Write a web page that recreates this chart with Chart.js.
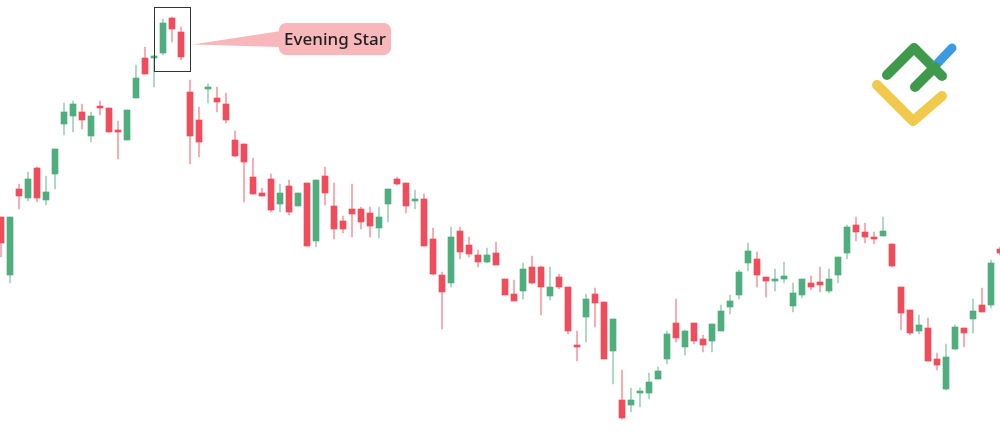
<!DOCTYPE html>
<html>
<head>
<meta charset="utf-8">
<script src="https://cdn.jsdelivr.net/npm/chart.js@4.4.1/dist/chart.umd.min.js"></script>
<style>
  html, body { margin: 0; padding: 0; background: #fff; }
  #wrap { width: 1000px; height: 443px; }
</style>
</head>
<body>
<div id="wrap"><canvas id="chart" width="1000" height="443"></canvas></div>
<script>
// candle values (arbitrary price units)
const openVals = [226,168,254,245,275,243,269,319,327,331,307,337,335,313,303,345,385,385,390,425,
  411,351,323,354,345,339,303,299,266,250,264,239,257,237,260,202,267,237,222,234,
  234,230,215,239,264,260,242,244,204,168,160,212,198,188,181,190,164,149,152,176,
  176,147,166,156,98,126,149,141,92,43,38,50,50,64,84,120,96,120,104,102,
  112,136,148,180,184,166,162,164,137,148,160,161,152,168,190,218,211,206,207,199,
  156,133,112,115,84,54,94,115,124,138,138,194];
const highVals = [226,226,259,271,276,267,294,340,342,339,331,342,335,322,333,378,396,388,424,426,
  416,363,336,359,356,350,312,299,285,255,269,259,263,250,260,263,276,260,227,259,
  236,236,236,254,266,260,253,249,215,171,216,216,206,193,195,201,164,163,180,187,
  177,176,169,156,112,149,155,141,124,73,55,55,70,76,112,144,113,120,108,119,
  138,148,173,200,191,166,174,181,160,164,167,176,174,186,218,226,220,211,226,199,
  156,133,128,125,90,99,118,115,144,155,183,196];
const lowVals = [186,160,234,242,241,238,254,308,311,314,301,328,311,284,303,345,369,356,388,401,
  383,279,286,340,331,320,286,241,249,247,231,231,228,237,197,196,238,204,210,206,
  214,206,205,221,258,230,234,197,168,114,156,184,186,176,180,178,148,142,144,159,
  128,143,154,109,82,101,116,84,59,24,31,36,44,64,79,101,88,99,91,91,
  112,129,144,172,156,146,152,160,131,145,153,151,150,160,184,202,200,199,207,176,
  113,108,109,82,73,53,93,96,110,131,135,188];
const closeVals = [200,226,247,264,245,251,294,331,339,323,327,335,311,311,333,365,369,387,420,414,
  386,307,301,356,341,323,287,281,249,247,233,250,231,250,197,263,250,214,214,229,
  221,217,226,254,259,237,244,197,169,151,206,191,189,181,188,178,148,142,174,160,
  156,156,156,112,96,144,140,84,124,25,43,51,61,72,109,105,112,102,98,119,
  132,142,171,192,168,162,164,167,150,164,156,158,164,186,216,211,206,204,212,177,
  130,110,118,82,78,86,116,110,132,131,180,190];
const patternLabel = 'Evening Star';
const patternCandles = [18, 19, 20];

const upColor = '#4fae7e';
const downColor = '#f04c5b';
const upWick = 'rgba(79,174,126,0.55)';
const downWick = 'rgba(240,76,91,0.55)';

const idx = openVals.map((v, i) => i);
const isUp = idx.map(i => closeVals[i] >= openVals[i]);

const wickData = idx.map(i => ({ x: i, y: [lowVals[i], highVals[i]] }));
const bodyData = idx.map(i => ({ x: i, y: [openVals[i], closeVals[i]] }));

// box round the pattern, pointer and label, plus the corner logo
const overlayPlugin = {
    id: 'overlay',
    afterDatasetsDraw(chart) {
        const ctx = chart.ctx;
        const xs = chart.scales.x, ys = chart.scales.y;
        const first = patternCandles[0], last = patternCandles[patternCandles.length - 1];
        const hi = Math.max(...patternCandles.map(i => highVals[i]));
        const lo = Math.min(...patternCandles.map(i => lowVals[i]));
        const left = Math.round(xs.getPixelForValue(first - 1)) + 0.5;
        const right = Math.round(xs.getPixelForValue(last + 1)) + 0.5;
        const top = Math.round(ys.getPixelForValue(hi + 10)) + 0.5;
        const bottom = Math.round(ys.getPixelForValue(lo - 11)) + 0.5;

        ctx.save();
        ctx.strokeStyle = '#333';
        ctx.lineWidth = 1;
        ctx.strokeRect(left, top, right - left, bottom - top);

        // callout
        const bx = 279, by = 23, bw = 112, bh = 32, r = 7;
        const mid = (top + bottom) / 2 + 5;
        ctx.fillStyle = '#f7b7bb';
        ctx.beginPath();
        ctx.moveTo(right + 2, mid);
        ctx.lineTo(bx + 2, by + 8);
        ctx.lineTo(bx + 2, by + 24);
        ctx.closePath();
        ctx.fill();
        ctx.beginPath();
        ctx.roundRect(bx, by, bw, bh, r);
        ctx.fill();
        ctx.fillStyle = '#1e1e1e';
        ctx.font = '500 17px "Noto Sans", sans-serif';
        ctx.textBaseline = 'middle';
        ctx.textAlign = 'center';
        ctx.fillText(patternLabel, bx + bw / 2, by + bh / 2 + 1);

        // logo
        ctx.lineCap = 'round';
        ctx.lineJoin = 'round';
        ctx.lineWidth = 10;
        ctx.strokeStyle = '#f1c94b';
        ctx.beginPath();
        ctx.moveTo(877, 85); ctx.lineTo(913, 121); ctx.lineTo(942, 96);
        ctx.stroke();
        ctx.strokeStyle = '#3f9a4c';
        ctx.beginPath();
        ctx.moveTo(887, 75); ctx.lineTo(914, 48); ctx.lineTo(942, 76);
        ctx.stroke();
        ctx.strokeStyle = '#3b9be0';
        ctx.lineWidth = 9;
        ctx.beginPath();
        ctx.moveTo(934, 67); ctx.lineTo(952, 48);
        ctx.stroke();
        ctx.strokeStyle = '#3f9a4c';
        ctx.lineWidth = 10;
        ctx.beginPath();
        ctx.moveTo(915, 87); ctx.lineTo(935, 67);
        ctx.stroke();
        ctx.restore();
    }
};

new Chart(document.getElementById('chart').getContext('2d'), {
    type: 'bar',
    data: {
        datasets: [{
            label: 'wick',
            data: wickData,
            backgroundColor: idx.map(i => isUp[i] ? upWick : downWick),
            barThickness: 1,
            grouped: false,
            borderWidth: 0,
            order: 2
        }, {
            label: 'body',
            data: bodyData,
            backgroundColor: idx.map(i => isUp[i] ? upColor : downColor),
            barThickness: 6,
            grouped: false,
            borderWidth: 0,
            minBarLength: 2,
            order: 1
        }]
    },
    options: {
        responsive: false,
        animation: false,
        layout: { padding: 0 },
        plugins: {
            legend: { display: false },
            tooltip: { enabled: false }
        },
        scales: {
            x: { type: 'linear', display: false, min: -1 / 9, max: 111, offset: false },
            y: { display: false, min: 0, max: 443 }
        }
    },
    plugins: [overlayPlugin]
});
</script>
</body>
</html>
